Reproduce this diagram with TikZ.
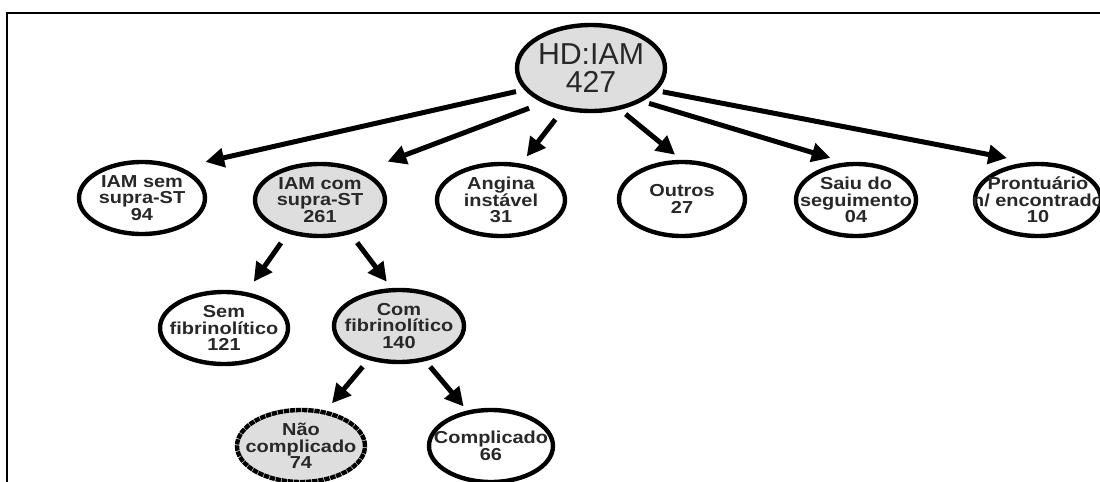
\documentclass[tikz,border=0pt]{standalone}
\usepackage{fontspec}
\setmainfont{Liberation Sans}
\newfontfamily\nodefont[FakeStretch=1.15]{Liberation Sans}
\usetikzlibrary{shapes.geometric,arrows.meta}
\definecolor{bubgrey}{RGB}{222,222,222}
\definecolor{txt}{RGB}{40,40,40}
\tikzset{
  bub/.style={ellipse, draw=black, line width=3.3pt, inner sep=0pt, fill=white},
  greybub/.style={bub, fill=bubgrey},
  lbl/.style={font={\nodefont\bfseries\fontsize{13}{12.4}\selectfont}, text=txt, align=center, inner sep=0pt},
  biglbl/.style={font={\fontsize{22.7}{21}\selectfont}, text=txt, align=center, inner sep=0pt},
  arr/.style={-{Triangle[length=14pt,width=14pt]}, line width=3.75pt, draw=black},
}
\begin{document}
\begin{tikzpicture}[x=0.75pt,y=-0.75pt]
\useasboundingbox (0,0) rectangle (1100,482);
% frame
\draw[line width=1.5pt] (7,500) -- (7,13) -- (1120,13);

% nodes
\node[greybub, minimum width=111pt, minimum height=64.5pt,
      label={[biglbl]center:{HD:IAM\\427}}] (hd) at (591,68) {};
\node[bub, minimum width=94.5pt, minimum height=54pt,
      label={[lbl]center:{IAM sem\\supra-ST\\94}}] (iamsem) at (142,198) {};
\node[greybub, minimum width=97.5pt, minimum height=54pt,
      label={[lbl]center:{IAM com\\supra-ST\\261}}] (iamcom) at (320,200) {};
\node[bub, minimum width=96pt, minimum height=54pt,
      label={[lbl]center:{Angina\\instável\\31}}] (angina) at (501,200) {};
\node[bub, minimum width=94.5pt, minimum height=55.5pt,
      label={[lbl]center:{Outros\\27}}] (outros) at (682,199) {};
\node[bub, minimum width=90pt, minimum height=54pt,
      label={[lbl]center:{Saiu do\\seguimento\\04}}] (saiu) at (856,200) {};
\node[bub, minimum width=94.5pt, minimum height=54pt,
      label={[lbl]center:{Prontuário\\n/ encontrado\\10}}] (pront) at (1038,200) {};
\node[bub, minimum width=96pt, minimum height=54pt,
      label={[lbl]center:{Sem\\fibrinolítico\\121}}] (semfib) at (224,328) {};
\node[greybub, minimum width=97.5pt, minimum height=54pt,
      label={[lbl]center:{Com\\fibrinolítico\\140}}] (comfib) at (399,326) {};
\node[greybub, dash pattern=on 4pt off 0.6pt, minimum width=96pt, minimum height=54pt,
      label={[lbl]center:{Não\\complicado\\74}}] (naocomp) at (301,446) {};
\node[bub, minimum width=93pt, minimum height=54pt,
      label={[lbl]center:{Complicado\\66}}] (comp) at (491,446) {};

% connectors
\draw[arr, shorten <=6.3pt, shorten >=18.75pt] (hd.198.7) -- (iamsem.38.4);
\draw[arr, shorten <=11pt, shorten >=19.5pt] (hd.216.7) -- (iamcom.34.8);
\draw[arr, shorten <=9pt, shorten >=6.75pt] (hd.236.8) -- (angina.61.1);
\draw[arr, shorten <=5.25pt, shorten >=6pt] (hd.305.9) -- (outros.91);
\draw[arr, shorten <=5.25pt, shorten >=11.6pt] (hd.327) -- (saiu.106.6);
\draw[arr, shorten <=4.5pt, shorten >=16.5pt] (hd.341.9) -- (pront.104.7);
\draw[arr, shorten <=8.7pt, shorten >=9.5pt] (iamcom.226.2) -- (semfib.58.1);
\draw[arr, shorten <=8.1pt, shorten >=6pt] (iamcom.312.6) -- (comfib.101.5);
\draw[arr, shorten <=6.6pt, shorten >=7.2pt] (comfib.228.7) -- (naocomp.55.4);
\draw[arr, shorten <=5.5pt, shorten >=4pt] (comfib.307.3) -- (comp.124.6);
\end{tikzpicture}
\end{document}
